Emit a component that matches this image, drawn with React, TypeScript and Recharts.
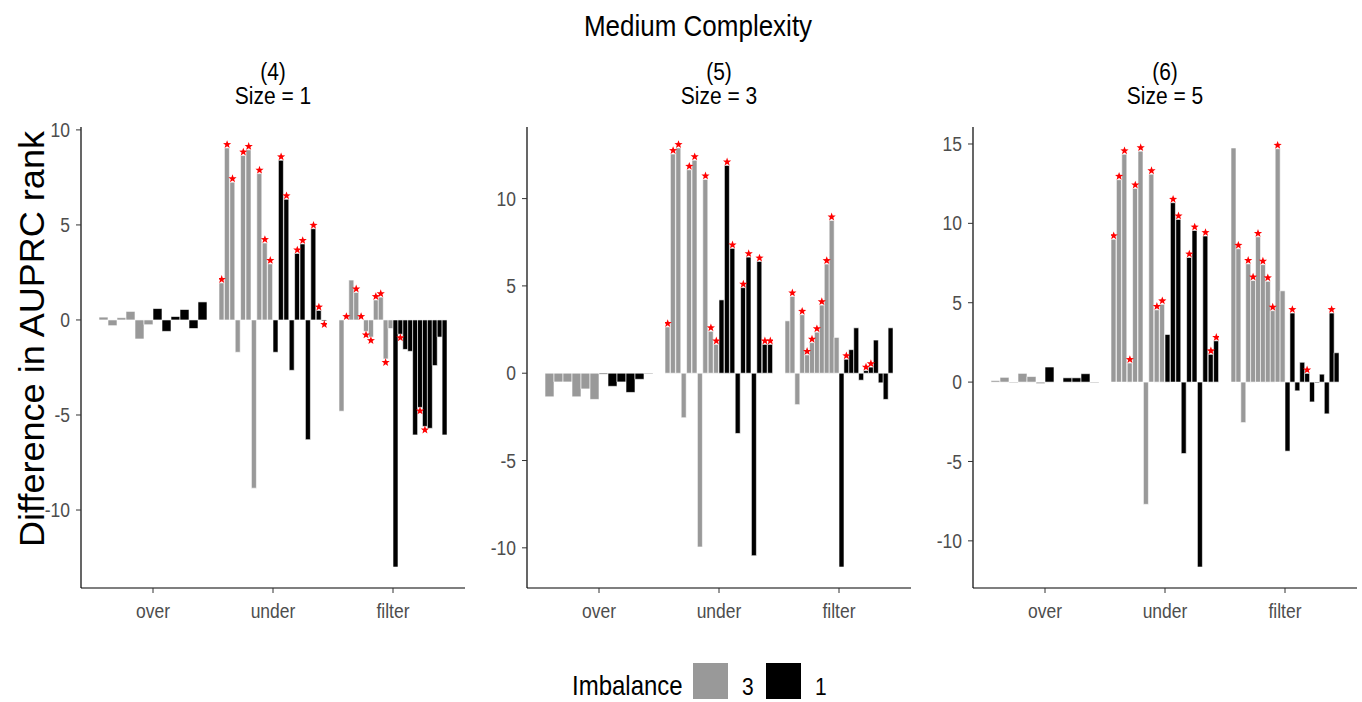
import { ComposedChart, Bar, Scatter, XAxis, YAxis, Cell } from "recharts";

const GRAY = "#999999";
const BLACK = "#000000";
const STAR = "#ff0000";
const TICK = "#4d4d4d";
const FONT = "'Liberation Sans', Arial, sans-serif";
const STRETCH = 1.12; // the reference text is a little taller than it is wide

const CATEGORIES = ["over", "under", "filter"];
const IMBALANCE_LABELS = ["3", "1"];

// values in dodge order, imbalance 3 (grey) then imbalance 1 (black); stars: 1 = marked
const size1Over3 = [0.15, -0.3, 0.12, 0.45, -1.0, -0.25];
const size1Over1 = [0.6, -0.6, 0.18, 0.55, -0.45, 0.95];
const size1Over3Stars = [0, 0, 0, 0, 0, 0];
const size1Over1Stars = [0, 0, 0, 0, 0, 0];
const size1Under3 = [1.95, 9.05, 7.25, -1.7, 8.65, 8.95, -8.85, 7.7, 4.05, 2.95];
const size1Under1 = [-1.7, 8.4, 6.35, -2.65, 3.5, 4.0, -6.3, 4.8, 0.5, -0.05];
const size1Under3Stars = [1, 1, 1, 0, 1, 1, 0, 1, 1, 1];
const size1Under1Stars = [0, 1, 1, 0, 1, 1, 0, 1, 1, 1];
const size1Filter3 = [-4.8, 0, 2.1, 1.45, 0, -0.6, -0.9, 1.05, 1.2, -2.05, -0.45];
const size1Filter1 = [-13.0, -0.75, -1.55, -1.65, -6.05, -4.6, -5.6, -5.7, -2.4, -0.9, -6.05];
const size1Filter3Stars = [0, 1, 0, 1, 1, 1, 1, 1, 1, 1, 0];
const size1Filter1Stars = [0, 1, 0, 0, 0, 1, 1, 0, 0, 0, 0];

const size3Over3 = [-1.35, -0.5, -0.5, -1.35, -0.9, -1.5];
const size3Over1 = [-0.05, -0.75, -0.5, -1.1, -0.35, -0.03];
const size3Over3Stars = [0, 0, 0, 0, 0, 0];
const size3Over1Stars = [0, 0, 0, 0, 0, 0];
const size3Under3 = [2.65, 12.55, 12.9, -2.55, 11.65, 12.2, -9.95, 11.1, 2.4, 1.65];
const size3Under1 = [4.2, 11.9, 7.15, -3.45, 4.9, 6.65, -10.45, 6.4, 1.65, 1.65];
const size3Under3Stars = [1, 1, 1, 0, 1, 1, 0, 1, 1, 1];
const size3Under1Stars = [0, 1, 1, 0, 1, 1, 0, 1, 1, 1];
const size3Filter3 = [3.0, 4.4, -1.8, 3.35, 1.05, 1.75, 2.35, 3.9, 6.25, 8.75, 2.05];
const size3Filter1 = [-11.1, 0.8, 1.35, 2.6, -0.4, 0.15, 0.35, 1.9, -0.55, -1.5, 2.6];
const size3Filter3Stars = [0, 1, 0, 1, 1, 1, 1, 1, 1, 1, 0];
const size3Filter1Stars = [0, 1, 0, 0, 0, 1, 1, 0, 0, 0, 0];

const size5Over3 = [0.1, 0.3, -0.05, 0.55, 0.35, -0.1];
const size5Over1 = [0.95, 0, 0.27, 0.27, 0.53, -0.03];
const size5Over3Stars = [0, 0, 0, 0, 0, 0];
const size5Over1Stars = [0, 0, 0, 0, 0, 0];
const size5Under3 = [9.0, 12.75, 14.35, 1.2, 12.2, 14.55, -7.7, 13.1, 4.55, 4.9];
const size5Under1 = [3.0, 11.3, 10.25, -4.5, 7.85, 9.55, -11.65, 9.2, 1.75, 2.6];
const size5Under3Stars = [1, 1, 1, 1, 1, 1, 0, 1, 1, 1];
const size5Under1Stars = [0, 1, 1, 0, 1, 1, 0, 1, 1, 1];
const size5Filter3 = [14.75, 8.4, -2.55, 7.45, 6.4, 9.15, 7.4, 6.35, 4.5, 14.7, 5.75];
const size5Filter1 = [-4.35, 4.35, -0.55, 1.25, 0.55, -1.25, -0.05, 0.5, -2.0, 4.35, 1.85];
const size5Filter3Stars = [0, 1, 0, 1, 1, 1, 1, 1, 1, 1, 0];
const size5Filter1Stars = [0, 1, 0, 0, 1, 0, 0, 0, 0, 1, 0];

const size1Ticks = [-10, -5, 0, 5, 10];
const size3Ticks = [-10, -5, 0, 5, 10];
const size5Ticks = [-10, -5, 0, 5, 10, 15];

// layout (px)
const PLOT_TOP = 127;
const PLOT_H = 461;
const PLOT_W = 384;
const Y_AXIS_W = 60;
const X_AXIS_H = 40;
const TOP_ROOM = 14;
const BAND = PLOT_W / 3.2;
const GROUP_W = BAND * 0.9;

type Row = { slot: string; value: number; imb: number; star: number | null };

function buildRows(g: number[], gs: number[], b: number[], bs: number[]): Row[] {
  const grey = g.map((v, i) => ({ slot: "g" + i, value: v, imb: 3, star: gs[i] ? v : null }));
  const black = b.map((v, i) => ({ slot: "b" + i, value: v, imb: 1, star: bs[i] ? v : null }));
  return [...grey, ...black];
}

function expandDomain(values: number[]): [number, number] {
  const lo = Math.min(...values);
  const hi = Math.max(...values);
  const pad = (hi - lo) * 0.05;
  return [lo - pad, hi + pad];
}

const PANELS = [
  {
    tag: "(4)", size: 1, axisX: 81, ticks: size1Ticks,
    groups: [
      buildRows(size1Over3, size1Over3Stars, size1Over1, size1Over1Stars),
      buildRows(size1Under3, size1Under3Stars, size1Under1, size1Under1Stars),
      buildRows(size1Filter3, size1Filter3Stars, size1Filter1, size1Filter1Stars),
    ],
  },
  {
    tag: "(5)", size: 3, axisX: 527, ticks: size3Ticks,
    groups: [
      buildRows(size3Over3, size3Over3Stars, size3Over1, size3Over1Stars),
      buildRows(size3Under3, size3Under3Stars, size3Under1, size3Under1Stars),
      buildRows(size3Filter3, size3Filter3Stars, size3Filter1, size3Filter1Stars),
    ],
  },
  {
    tag: "(6)", size: 5, axisX: 973, ticks: size5Ticks,
    groups: [
      buildRows(size5Over3, size5Over3Stars, size5Over1, size5Over1Stars),
      buildRows(size5Under3, size5Under3Stars, size5Under1, size5Under1Stars),
      buildRows(size5Filter3, size5Filter3Stars, size5Filter1, size5Filter1Stars),
    ],
  },
];

function StarMark(props: any) {
  const { cx, cy, payload } = props;
  if (!payload || payload.star == null || !Number.isFinite(cx) || !Number.isFinite(cy)) return <g />;
  const yc = cy + (payload.star < 0 ? 3.5 : -3.5);
  const pts: string[] = [];
  for (let k = 0; k < 10; k++) {
    const r = k % 2 === 0 ? 4.3 : 1.8;
    const a = -Math.PI / 2 + (k * Math.PI) / 5;
    pts.push(`${(cx + r * Math.cos(a)).toFixed(2)},${(yc + r * Math.sin(a)).toFixed(2)}`);
  }
  return <polygon points={pts.join(" ")} fill={STAR} />;
}

function YTick(props: any) {
  const { x, y, payload } = props;
  return (
    <g transform={`translate(${x},${y}) scale(1,${STRETCH})`}>
      <text x={0} y={0} dy="0.36em" textAnchor="end" fontSize={17.5} fontFamily={FONT} fill={TICK}>
        {payload.value}
      </text>
    </g>
  );
}

function XTick(props: any) {
  const { x, y, payload } = props;
  return (
    <g transform={`translate(${x},${y}) scale(1,${STRETCH})`}>
      <text x={0} y={0} dy="0.72em" textAnchor="middle" fontSize={17.5} fontFamily={FONT} fill={TICK}>
        {payload.value}
      </text>
    </g>
  );
}

const noMargin = { top: 0, right: 0, bottom: 0, left: 0 };

function Panel({ panel }: { panel: (typeof PANELS)[number] }) {
  const domain = expandDomain(panel.groups.flat().map((r) => r.value));
  return (
    <>
      <div style={{ position: "absolute", left: panel.axisX - Y_AXIS_W, top: PLOT_TOP - TOP_ROOM }}>
        <ComposedChart
          width={Y_AXIS_W + PLOT_W}
          height={TOP_ROOM + PLOT_H + X_AXIS_H}
          data={CATEGORIES.map((c) => ({ cat: c }))}
          margin={{ top: TOP_ROOM, right: 0, bottom: 0, left: 0 }}
        >
          <XAxis
            dataKey="cat"
            height={X_AXIS_H}
            padding={{ left: 12, right: 12 }}
            tickSize={5}
            tickMargin={11}
            axisLine={{ stroke: "#000", strokeWidth: 1.2 }}
            tickLine={{ stroke: "#333" }}
            tick={XTick}
          />
          <YAxis
            type="number"
            domain={domain}
            allowDataOverflow
            ticks={panel.ticks}
            interval={0}
            width={Y_AXIS_W}
            tickSize={5}
            tickMargin={6}
            axisLine={{ stroke: "#000", strokeWidth: 1.2 }}
            tickLine={{ stroke: "#333" }}
            tick={YTick}
          />
          <Bar dataKey="none" isAnimationActive={false} />
        </ComposedChart>
      </div>
      {panel.groups.map((rows, gi) => (
        <div
          key={gi}
          style={{ position: "absolute", left: panel.axisX + BAND * 0.6 - GROUP_W / 2 + BAND * gi, top: PLOT_TOP }}
        >
          <ComposedChart width={GROUP_W} height={PLOT_H} data={rows} margin={noMargin} barCategoryGap={0}>
            <XAxis dataKey="slot" hide />
            <YAxis type="number" domain={domain} allowDataOverflow hide />
            <Bar dataKey="value" stroke="#ffffff" strokeWidth={0.6} isAnimationActive={false}>
              {rows.map((r, i) => (
                <Cell key={i} fill={r.imb === 3 ? GRAY : BLACK} />
              ))}
            </Bar>
            <Scatter dataKey="star" shape={StarMark} isAnimationActive={false} />
          </ComposedChart>
        </div>
      ))}
    </>
  );
}

function Label({ x, y, size, anchor, children }: { x: number; y: number; size: number; anchor?: string; children: any }) {
  return (
    <g transform={`translate(${x},${y}) scale(1,${STRETCH})`}>
      <text x={0} y={0} textAnchor={anchor || "start"} fontSize={size} fontFamily={FONT} fill="#000">
        {children}
      </text>
    </g>
  );
}

export default function App() {
  return (
    <div
      style={{
        position: "absolute",
        left: 0,
        top: 0,
        width: 1362,
        height: 702,
        background: "#ffffff",
        fontFamily: FONT,
        overflow: "hidden",
      }}
    >
      <svg width={1362} height={702} style={{ position: "absolute", left: 0, top: 0 }}>
        <Label x={698} y={36} size={26} anchor="middle">Medium Complexity</Label>
        {PANELS.map((p) => (
          <g key={p.tag}>
            <Label x={p.axisX + PLOT_W / 2} y={80} size={21} anchor="middle">{p.tag}</Label>
            <Label x={p.axisX + PLOT_W / 2} y={104} size={21} anchor="middle">{`Size = ${p.size}`}</Label>
          </g>
        ))}
        <text
          transform="translate(44, 339) rotate(-90) scale(1.03,1)"
          textAnchor="middle"
          fontSize={35}
          fontFamily={FONT}
          fill="#000"
        >
          Difference in AUPRC rank
        </text>
        <Label x={572} y={695} size={24}>Imbalance</Label>
        <rect x={693} y={663} width={35} height={36} fill={GRAY} />
        <Label x={742} y={695} size={21}>{IMBALANCE_LABELS[0]}</Label>
        <rect x={766} y={663} width={35} height={36} fill={BLACK} />
        <Label x={815} y={695} size={21}>{IMBALANCE_LABELS[1]}</Label>
      </svg>
      {PANELS.map((p) => (
        <Panel key={p.tag} panel={p} />
      ))}
    </div>
  );
}
